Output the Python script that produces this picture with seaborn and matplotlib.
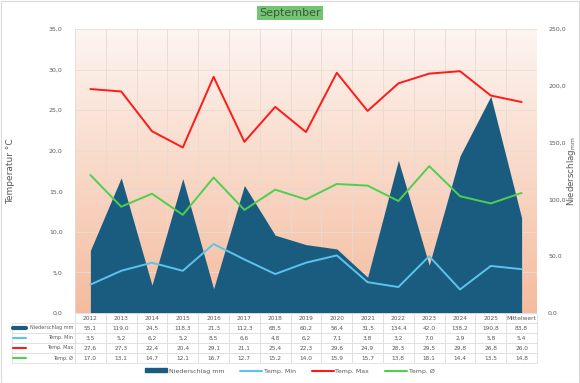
import seaborn as sb
import matplotlib.pyplot as plt
import matplotlib.colors as mcolors
from matplotlib.lines import Line2D
from matplotlib.patches import Patch, Rectangle
import numpy as np
import pandas as pd

years = ['2012', '2013', '2014', '2015', '2016', '2017', '2018', '2019',
         '2020', '2021', '2022', '2023', '2024', '2025', 'Mittelwert']
niederschlag = [55.1, 119.0, 24.5, 118.3, 21.3, 112.3, 68.5, 60.2,
                56.4, 31.5, 134.4, 42.0, 138.2, 190.8, 83.8]
temp_min = [3.5, 5.2, 6.2, 5.2, 8.5, 6.6, 4.8, 6.2, 7.1, 3.8, 3.2, 7.0, 2.9, 5.8, 5.4]
temp_max = [27.6, 27.3, 22.4, 20.4, 29.1, 21.1, 25.4, 22.3, 29.6, 24.9, 28.3, 29.5, 29.8, 26.8, 26.0]
temp_avg = [17.0, 13.1, 14.7, 12.1, 16.7, 12.7, 15.2, 14.0, 15.9, 15.7, 13.8, 18.1, 14.4, 13.5, 14.8]

c_rain = '#195c80'
c_min = '#5cc4ec'
c_max = '#ff1a1a'
c_avg = '#4fcf4f'
txt = '#595959'

df = pd.DataFrame({'x': np.arange(len(years)), 'rain': niederschlag,
                   'min': temp_min, 'max': temp_max, 'avg': temp_avg})

sb.set_style('white')
plt.rcParams['font.family'] = ['DejaVu Sans']

fig = plt.figure(figsize=(5.8, 3.83), dpi=100)
ax = fig.add_axes([75 / 580, 1 - 313 / 383, 462 / 580, 284 / 383])
ax2 = ax.twinx()
ax.set_zorder(ax2.get_zorder() + 1)
ax.patch.set_visible(False)

n = len(years)
# gradient background
grad = np.linspace(0, 1, 256).reshape(-1, 1)
cmap = mcolors.LinearSegmentedColormap.from_list('bg', ['#fdf5f1', '#f4bc9e'])
ax2.imshow(grad, aspect='auto', cmap=cmap, extent=(-0.5, n - 0.5, 0, 250),
           origin='upper', zorder=0)

# rain area
ax2.fill_between(df['x'], 0, df['rain'], color=c_rain, lw=0, zorder=2)
ax2.set_ylim(0, 250)
ax2.set_xlim(-0.5, n - 0.5)
ax2.set_yticks(np.arange(0, 251, 50))
ax2.set_yticklabels([f'{v:.1f}'.replace('.', ',') for v in np.arange(0, 251, 50)])

# grid
for v in np.arange(0, 36, 5):
    ax2.axhline(v * 250 / 35, color='#ecdcd4', lw=0.6, zorder=1)
for i in range(n + 1):
    ax2.axvline(i - 0.5, color='#e8dad2', lw=0.6, zorder=1)

sb.lineplot(data=df, x='x', y='min', ax=ax, color=c_min, lw=1.4, zorder=3)
sb.lineplot(data=df, x='x', y='max', ax=ax, color=c_max, lw=1.4, zorder=3)
sb.lineplot(data=df, x='x', y='avg', ax=ax, color=c_avg, lw=1.4, zorder=3)
ax.set_ylim(0, 35)
ax.set_xlim(-0.5, n - 0.5)
ax.set_yticks(np.arange(0, 36, 5))
ax.set_yticklabels([f'{v:.1f}'.replace('.', ',') for v in np.arange(0, 36, 5)])
ax.set_xticks([])
ax2.set_xticks([])
ax.set_xlabel('')
ax.set_ylabel('Temperatur °C', fontsize=6.5, color=txt)
ax2.set_ylabel('Niederschlag$_{\\mathrm{mm}}$', fontsize=6.2, color=txt)
ax.yaxis.set_label_coords(-60 / 462, 0.5)
ax2.yaxis.set_label_coords(1 + 28 / 462, 0.5)
for a in (ax, ax2):
    a.tick_params(axis='y', labelsize=4.5, colors=txt, length=0, pad=9)
    for s in a.spines.values():
        s.set_visible(False)
ax2.tick_params(axis='y', pad=8)

# data table
fmt = lambda vals: [f'{v:.1f}'.replace('.', ',') for v in vals]
cells = [years, fmt(niederschlag), fmt(temp_min), fmt(temp_max), fmt(temp_avg)]
rows = ['', 'Niederschlag mm', 'Temp. Min', 'Temp. Max', 'Temp. Ø']
cell_text = [[r] + c for r, c in zip(rows, cells)]
x0 = (12 - 75) / 462
tbl = ax.table(cellText=cell_text, cellLoc='center',
               bbox=[x0, -50 / 284, 1 - x0, 50 / 284],
               colWidths=[63 / 462] + [1 / n] * n)
tbl.auto_set_font_size(False)
for (r, c), cell in tbl.get_celld().items():
    cell.set_edgecolor('#d9d9d9')
    cell.set_linewidth(0.5)
    cell.get_text().set_fontsize(4.2)
    cell.get_text().set_color(txt)
    if c == 0:
        cell.get_text().set_ha('right')
        cell.get_text().set_fontsize(3.5)
        cell.PAD = 0.03
        if r == 0:
            cell.set_edgecolor('none')
# legend keys inside the table
key_colors = [c_rain, c_min, c_max, c_avg]
for i, col in enumerate(key_colors):
    y = 1 - (328 + i * 10) / 383
    fig.add_artist(Line2D([13 / 580, 26 / 580], [y, y], color=col,
                          lw=3 if i == 0 else 1.5, transform=fig.transFigure))

handles = [Patch(color=c_rain, label='Niederschlag mm'),
           Line2D([], [], color=c_min, lw=1.5, label='Temp. Min'),
           Line2D([], [], color=c_max, lw=1.5, label='Temp. Max'),
           Line2D([], [], color=c_avg, lw=1.5, label='Temp. Ø')]
leg = fig.legend(handles=handles, loc='center', bbox_to_anchor=(0.5, 1 - 371 / 383),
                 ncol=4, frameon=False, fontsize=4.5, handlelength=3.5,
                 handleheight=0.6, columnspacing=2.5, handletextpad=0.3)
for t in leg.get_texts():
    t.set_color(txt)

fig.text(0.5, 1 - 13 / 383, 'September', ha='center', va='center', fontsize=8,
         color='#3a5a3a',
         bbox=dict(boxstyle='square,pad=0.2', facecolor='#74c474', edgecolor='none'))

fig.add_artist(Rectangle((0.001, 0.001), 0.997, 0.997, fill=False,
                         edgecolor='#d9d9d9', lw=0.8, transform=fig.transFigure))

fig.savefig('out.png', dpi=100)
